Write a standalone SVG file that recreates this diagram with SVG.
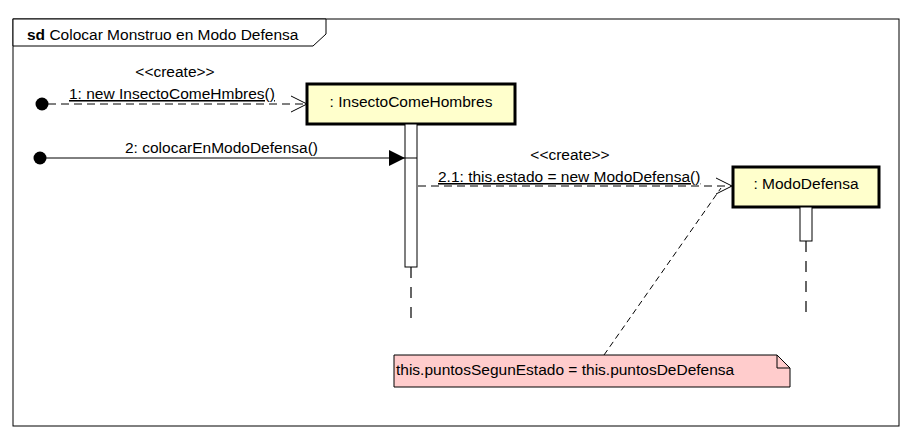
<svg xmlns="http://www.w3.org/2000/svg" width="913" height="440" viewBox="0 0 913 440">
<style>
text{font-family:"Liberation Sans",Arial,sans-serif;font-size:15.5px;fill:#000}
.title{font-size:15.5px}
.node rect.box{fill:#FFFFCC;stroke:#000;stroke-width:3}
.act{fill:#fff;stroke:#000;stroke-width:1}
.life{stroke:#000;stroke-width:1.2;stroke-dasharray:11,9;fill:none}
.dash{stroke:#000;stroke-width:1;stroke-dasharray:8,5;fill:none}
.solid{stroke:#000;stroke-width:1;fill:none}
.open{stroke:#000;stroke-width:1;fill:none}
</style>
<rect x="0" y="0" width="913" height="440" fill="#fff"/>
<g id="frame">
<rect x="13" y="19" width="886" height="407" fill="none" stroke="#000" stroke-width="1"/>
<polygon points="13,19 326,19 326,34 313,46 13,46" fill="#fff" stroke="#000" stroke-width="1"/>
<text x="27" y="40" class="title"><tspan font-weight="bold">sd</tspan> Colocar Monstruo en Modo Defensa</text>
</g>
<g id="node-insecto" class="node">
<rect class="box" x="307" y="84" width="208" height="40"/>
<text x="411" y="107" text-anchor="middle">: InsectoComeHombres</text>
<line class="life" x1="411" y1="267" x2="411" y2="318"/>
<rect class="act" x="405" y="124" width="12" height="143"/>
</g>
<g id="node-modo" class="node">
<rect class="box" x="733" y="167" width="146" height="40"/>
<text x="806" y="189" text-anchor="middle">: ModoDefensa</text>
<line class="life" x1="806" y1="241" x2="806" y2="318"/>
<rect class="act" x="800" y="207" width="12" height="34"/>
</g>
<g id="node-note">
<path d="M394,355 H777 L790,368 V387 H394 Z" fill="#FFCCCC" stroke="#000" stroke-width="1"/>
<path d="M777,355 V368 H790" fill="none" stroke="#000" stroke-width="1"/>
<text x="396" y="375">this.puntosSegunEstado = this.puntosDeDefensa</text>
</g>
<g id="connectors">
<circle cx="42" cy="104" r="6.5" fill="#000"/>
<line class="dash" x1="48" y1="104" x2="306" y2="104"/>
<polyline class="open" points="291,96 307,104 291,112"/>
<text x="175" y="77" text-anchor="middle">&lt;&lt;create&gt;&gt;</text>
<text x="69" y="99" text-decoration="underline">1: new InsectoComeHmbres()</text>

<circle cx="40" cy="158" r="6.5" fill="#000"/>
<line class="solid" x1="46" y1="158" x2="417" y2="158"/>
<polygon points="389,150 405,158 389,166" fill="#000"/>
<text x="125" y="153">2: colocarEnModoDefensa()</text>

<line class="dash" x1="418" y1="186" x2="731" y2="186"/>
<polyline class="open" points="716,178 732,186 716,194"/>
<text x="570" y="160" text-anchor="middle">&lt;&lt;create&gt;&gt;</text>
<text x="438" y="182" text-decoration="underline">2.1: this.estado = new ModoDefensa()</text>

<line x1="604" y1="355" x2="721" y2="188" stroke="#000" stroke-width="1" stroke-dasharray="6,4"/>
</g>
</svg>
